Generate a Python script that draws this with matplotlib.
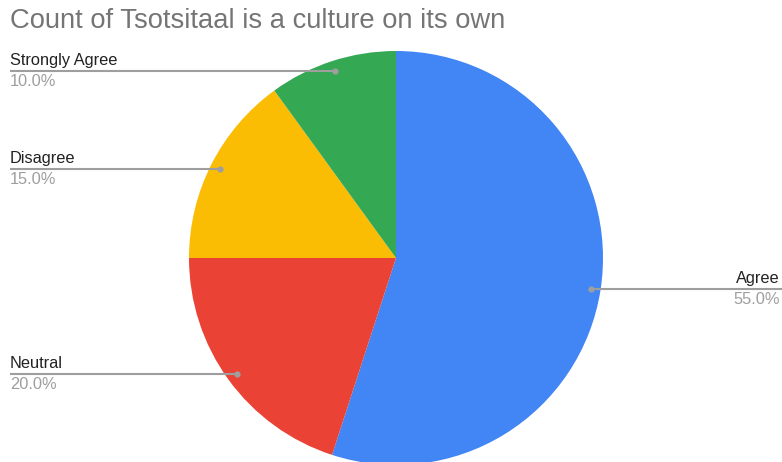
import numpy as np
import matplotlib.pyplot as plt

plt.rcParams['font.family'] = ['Liberation Sans', 'DejaVu Sans']

# data
categories = ['Agree', 'Neutral', 'Disagree', 'Strongly Agree']
values = [55, 20, 15, 10]
colors = ['#4285F4', '#EA4335', '#FBBC04', '#34A853']
title = 'Count of Tsotsitaal is a culture on its own'

W, H = 782, 462
cx, cy, r = 396, 258, 207

fig = plt.figure(figsize=(W / 100, H / 100), dpi=100)
ax = fig.add_axes([0, 0, 1, 1])

# pie in pixel coords (y flipped -> draw counterclock so it shows clockwise)
ax.pie(values, colors=colors, startangle=-90, counterclock=True,
       center=(cx, cy), radius=r, wedgeprops=dict(linewidth=0))
ax.set_xlim(0, W)
ax.set_ylim(H, 0)
ax.set_aspect('equal')
ax.axis('off')

total = sum(values)
start = 90.0
for cat, v in zip(categories, values):
    span = 360.0 * v / total
    mid = np.deg2rad(start - span / 2)
    start -= span
    d = 0.952 * r
    px = cx + d * np.cos(mid)
    py = cy - d * np.sin(mid)
    pct = f'{100.0 * v / total:.1f}%'
    if px > cx:
        ax.plot([px, W], [py, py], color='#9e9e9e', lw=1.5, solid_capstyle='butt', zorder=3)
        ax.text(W - 2, py - 3, cat, ha='right', va='bottom', fontsize=11.8, color='#222222')
        ax.text(W - 2, py + 3, pct, ha='right', va='top', fontsize=11.8, color='#9e9e9e')
    else:
        ax.plot([10, px], [py, py], color='#9e9e9e', lw=1.5, solid_capstyle='butt', zorder=3)
        ax.text(10, py - 3, cat, ha='left', va='bottom', fontsize=11.8, color='#222222')
        ax.text(10, py + 3, pct, ha='left', va='top', fontsize=11.8, color='#9e9e9e')
    ax.plot(px, py, 'o', ms=4.5, color='#9e9e9e', mec='none', zorder=4)

ax.text(10, 28, title, ha='left', va='baseline', fontsize=19.7, color='#757575')

fig.savefig('out.png', dpi=100)
